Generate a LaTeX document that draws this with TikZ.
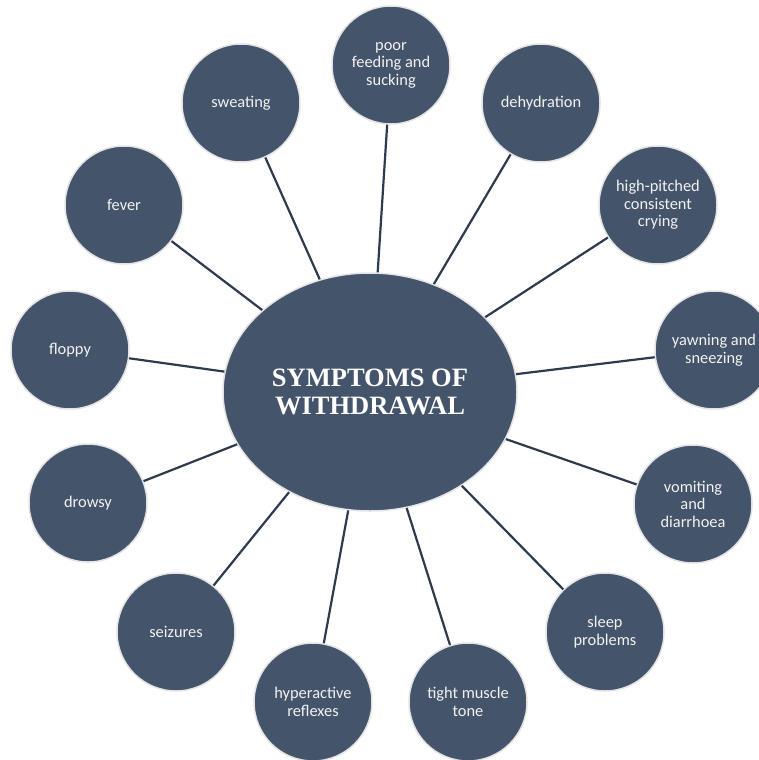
\documentclass[tikz,border=0pt]{standalone}
\usepackage{fontspec}
\setmainfont{Carlito}
\newfontfamily\titlefont{Liberation Serif}
\usetikzlibrary{shapes.geometric}
\definecolor{fillc}{HTML}{44546A}
\definecolor{edgec}{HTML}{E4E4E4}
\definecolor{linec}{HTML}{2E3B4E}
\begin{document}
\begin{tikzpicture}[x=1pt,y=-1pt,
  sym/.style={circle, fill=fillc, draw=edgec, line width=1.5pt, minimum size=118pt, inner sep=0pt,
    text=white!95!black, align=center, font=\fontsize{16.4}{17.5}\selectfont},
  hub/.style={ellipse, fill=fillc, draw=edgec, line width=1.5pt, minimum width=294pt, minimum height=238pt,
    inner sep=0pt, text=white, align=center, font=\titlefont\bfseries\fontsize{26.5}{27.5}\selectfont},
  link/.style={draw=linec, line width=2.2pt}]
\useasboundingbox (0,0) rectangle (759,760);
\fill[white] (0,0) rectangle (759,760);
\node[hub] (c) at (370,392) {SYMPTOMS OF\\WITHDRAWAL};
\node[sym] (poor) at (391,65) {poor\\feeding and\\sucking};
\node[sym] (dehy) at (541,103) {dehydration};
\node[sym] (high) at (658,205) {high-pitched\\consistent\\crying};
\node[sym] (yawn) at (714,350) {yawning and\\sneezing};
\node[sym] (vomit) at (693,504) {vomiting\\and\\diarrhoea};
\node[sym] (sleep) at (605,632) {sleep\\problems};
\node[sym] (tight) at (468,702) {tight muscle\\tone};
\node[sym] (hyper) at (313,702) {hyperactive\\reflexes};
\node[sym] (seiz) at (176,632) {seizures};
\node[sym] (drowsy) at (88,503) {drowsy};
\node[sym] (floppy) at (70,350) {floppy};
\node[sym] (fever) at (124,205) {fever};
\node[sym] (sweat) at (241,103) {sweating};
\foreach \n in {poor,dehy,high,yawn,vomit,sleep,tight,hyper,seiz,drowsy,floppy,fever,sweat}
  \draw[link] (c) -- (\n);
\end{tikzpicture}
\end{document}
